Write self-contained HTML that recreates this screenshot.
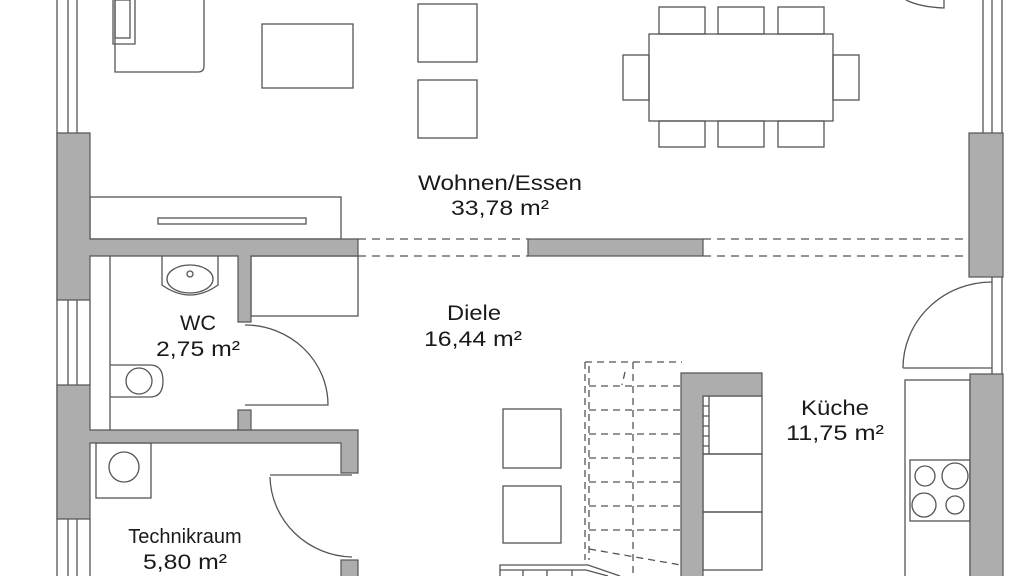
<!DOCTYPE html>
<html><head><meta charset="utf-8"><style>
html,body{margin:0;padding:0;background:#fff;width:1024px;height:576px;overflow:hidden}
svg{display:block}
text{font-family:"Liberation Sans",sans-serif;font-size:21px;fill:#1a1a1a;text-anchor:middle}
</style></head><body>
<svg width="1024" height="576" viewBox="0 0 1024 576" xmlns="http://www.w3.org/2000/svg">
<g fill="none" stroke="#555" stroke-width="1.3">
<line x1="57" y1="0" x2="57" y2="576"/>
<line x1="68" y1="0" x2="68" y2="133"/><line x1="77" y1="0" x2="77" y2="133"/>
<line x1="68" y1="300" x2="68" y2="385"/><line x1="77" y1="300" x2="77" y2="385"/><line x1="90" y1="300" x2="90" y2="385"/>
<line x1="68" y1="519" x2="68" y2="576"/><line x1="77" y1="519" x2="77" y2="576"/><line x1="90" y1="519" x2="90" y2="576"/>
<line x1="983" y1="0" x2="983" y2="133"/><line x1="992" y1="0" x2="992" y2="133"/><line x1="1002" y1="0" x2="1002" y2="576"/>
<line x1="992" y1="277" x2="992" y2="374"/>
<path d="M115 0 V72 Q115 72 120 72 H198 Q204 72 204 66 V0"/>
<path d="M113 0 V44 H135 V0"/><rect x="115" y="0" width="15" height="38"/>
<rect x="262" y="24" width="91" height="64"/>
<rect x="418" y="4" width="59" height="58"/><rect x="418" y="80" width="59" height="58"/>
<rect x="649" y="34" width="184" height="87"/>
<rect x="659" y="7" width="46" height="27"/><rect x="718" y="7" width="46" height="27"/><rect x="778" y="7" width="46" height="27"/>
<rect x="659" y="121" width="46" height="26"/><rect x="718" y="121" width="46" height="26"/><rect x="778" y="121" width="46" height="26"/>
<rect x="623" y="55" width="26" height="45"/><rect x="833" y="55" width="26" height="45"/>
<path d="M906 0 Q920 7 944 8 V0"/>
<rect x="90" y="197" width="251" height="42"/><rect x="158" y="218" width="148" height="6"/>
<g stroke-dasharray="8 6"><line x1="358" y1="239" x2="528" y2="239"/><line x1="358" y1="256" x2="528" y2="256"/>
<line x1="703" y1="239" x2="969" y2="239"/><line x1="703" y1="256" x2="969" y2="256"/></g>
<line x1="110" y1="256" x2="110" y2="430"/>
<path d="M162 256 V285 Q190 305 218 285 V256"/><ellipse cx="190" cy="279" rx="23" ry="14"/><circle cx="190" cy="274" r="3"/>
<path d="M110 365 H150 Q163 365 163 381 Q163 397 150 397 H110"/><ellipse cx="139" cy="381" rx="13" ry="13"/>
<rect x="251" y="256" width="107" height="60"/>
<path d="M245 325 A83 80 0 0 1 328 405 H245"/>
<rect x="96" y="443" width="55" height="55"/><circle cx="124" cy="467" r="15"/>
<path d="M270 475 H352 M270 477 A84 82 0 0 0 352 557"/>
<path d="M903 368 A89 86 0 0 1 992 282 M903 368 H992"/>
<rect x="905" y="380" width="65" height="200"/>
<rect x="910" y="460" width="60" height="61"/>
<circle cx="925" cy="476" r="10"/><circle cx="955" cy="476" r="13"/><circle cx="924" cy="505" r="12"/><circle cx="955" cy="505" r="9"/>
<rect x="503" y="409" width="58" height="59"/><rect x="503" y="486" width="58" height="57"/>
<g stroke-dasharray="7 5">
<line x1="585" y1="362" x2="585" y2="560"/><line x1="589" y1="366" x2="589" y2="560"/>
<line x1="585" y1="362" x2="682" y2="362"/><line x1="633" y1="362" x2="633" y2="576"/>
<line x1="589" y1="386" x2="681" y2="386"/><line x1="589" y1="410" x2="681" y2="410"/><line x1="589" y1="434" x2="681" y2="434"/>
<line x1="589" y1="458" x2="681" y2="458"/><line x1="589" y1="482" x2="681" y2="482"/><line x1="589" y1="506" x2="681" y2="506"/>
<line x1="589" y1="530" x2="681" y2="530"/><line x1="589" y1="549" x2="681" y2="565"/>
<line x1="625" y1="372" x2="622" y2="385"/>
</g>
<path d="M500 576 V565 H588 L620 576 M500 570 H586 L608 576 M523 570 V576 M547 570 V576 M572 570 V576"/>
<rect x="703" y="396" width="59" height="58"/><rect x="703" y="454" width="59" height="58"/><rect x="703" y="512" width="59" height="58"/>
<path d="M709 396 V454 M703 406 H709 M703 416 H709 M703 426 H709 M703 436 H709 M703 446 H709"/>
</g>
<g fill="#adadad" stroke="#555" stroke-width="1.2">
<path d="M57 133 H90 V239 H358 V256 H251 V322 H238 V256 H90 V300 H57 Z"/>
<path d="M57 385 H90 V430 H358 V473 H341 V443 H90 V519 H57 Z"/>
<rect x="238" y="410" width="13" height="20"/>
<rect x="341" y="560" width="17" height="20"/>
<rect x="528" y="239" width="175" height="17"/>
<rect x="969" y="133" width="34" height="144"/>
<rect x="970" y="374" width="33" height="206"/>
<path d="M681 373 H762 V396 H703 V580 H681 Z"/>
</g>
<text x="500" y="190" textLength="164" lengthAdjust="spacingAndGlyphs">Wohnen/Essen</text><text x="500" y="215" textLength="98" lengthAdjust="spacingAndGlyphs">33,78 m²</text>
<text x="474" y="320" textLength="54" lengthAdjust="spacingAndGlyphs">Diele</text><text x="473" y="346" textLength="98" lengthAdjust="spacingAndGlyphs">16,44 m²</text>
<text x="198" y="330" textLength="36" lengthAdjust="spacingAndGlyphs">WC</text><text x="198" y="356" textLength="84" lengthAdjust="spacingAndGlyphs">2,75 m²</text>
<text x="835" y="415" textLength="68" lengthAdjust="spacingAndGlyphs">Küche</text><text x="835" y="440" textLength="98" lengthAdjust="spacingAndGlyphs">11,75 m²</text>
<text x="185" y="543" style="font-size:20px">Technikraum</text><text x="185" y="569" textLength="84" lengthAdjust="spacingAndGlyphs">5,80 m²</text>
</svg>
</body></html>
